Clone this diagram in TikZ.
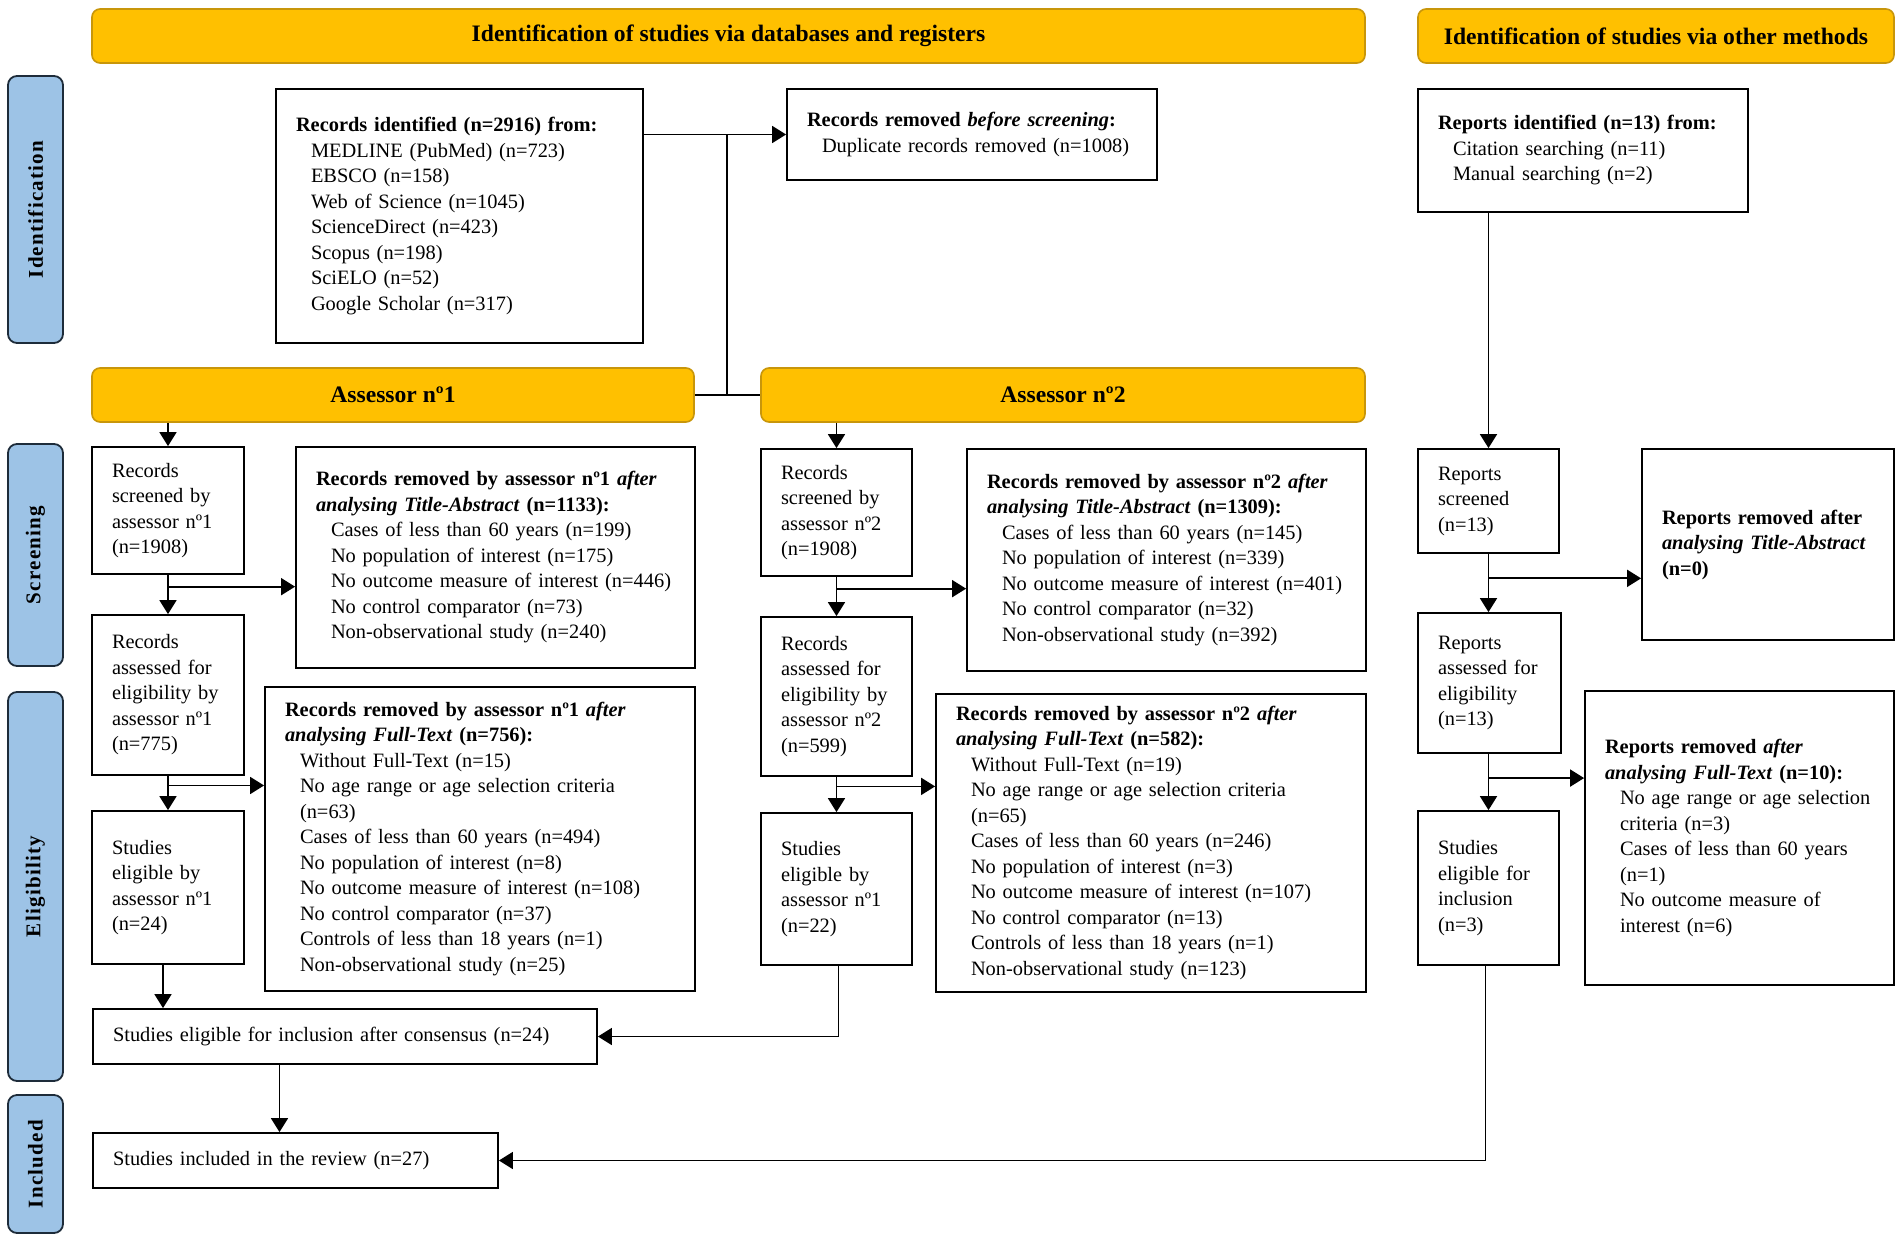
\documentclass[tikz,border=0pt]{standalone}
\usepackage{fontspec}
\setmainfont{Liberation Serif}
\newfontfamily\sidefont[LetterSpace=6]{Liberation Serif}
\usepackage{tikz}
\usetikzlibrary{arrows.meta, calc, positioning}
\definecolor{bandGold}{HTML}{FFC000}
\definecolor{bandEdge}{HTML}{C8960A}
\definecolor{sideBlue}{HTML}{9DC3E6}
\definecolor{sideEdge}{HTML}{1E2C3A}
\newcommand\bodyfont{\fontsize{10.2}{12.75}\selectfont\hyphenpenalty=10000\exhyphenpenalty=10000}
\newcommand\itm{\hspace*{7.5pt}}
\tikzset{
  box/.style 2 args={draw, line width=.9pt, minimum width=#1pt, minimum height=#2pt,
    text width=#1pt-20pt, inner xsep=10pt, inner ysep=0pt, align=left, font=\bodyfont},
  band/.style 2 args={draw=bandEdge, fill=bandGold, line width=.8pt, rounded corners=4pt,
    minimum width=#1pt, minimum height=#2pt, align=center,
    font=\fontsize{11.8}{14}\selectfont\bfseries},
  side/.style 2 args={draw=sideEdge, fill=sideBlue, line width=.9pt, rounded corners=4.5pt,
    rotate=90, minimum width=#2pt, minimum height=#1pt, inner sep=0pt,
    font=\fontsize{10.5}{12}\sidefont\bfseries},
}

\begin{document}
\begin{tikzpicture}[>={Triangle[length=7pt,width=8.5pt]}, line width=.9pt, x=.5pt, y=-.5pt]
\useasboundingbox (0,0) rectangle (1902,1243);

\node[band={636.5}{27}] (bandDb) at (728.5,36) {Identification of studies via databases and registers};
\node[band={238}{27}] (bandOther) at (1656,36) {Identification of studies via other methods};

\node[side={27.5}{133.5}] (sideId) at (35.5,209.5) {Identification};
\node[side={27.5}{111}] (sideScr) at (35.5,555) {Screening};
\node[side={27.5}{194.5}] (sideElig) at (35.5,886.5) {Eligibility};
\node[side={27.5}{69}] (sideIncl) at (35.5,1164) {Included};

\node[box={183.5}{127}] (idDb) at (459.5,216) {\textbf{Records identified (n=2916) from:}\\
  \itm MEDLINE (PubMed) (n=723)\\ \itm EBSCO (n=158)\\ \itm Web of Science (n=1045)\\
  \itm ScienceDirect (n=423)\\ \itm Scopus (n=198)\\ \itm SciELO (n=52)\\ \itm Google Scholar (n=317)};
\node[box={185}{45.5}] (dup) at (972,134.5) {\textbf{Records removed \textit{before screening}:}\\
  \itm Duplicate records removed (n=1008)};
\node[box={165}{61.5}] (idOther) at (1583,150.5) {\textbf{Reports identified (n=13) from:}\\
  \itm Citation searching (n=11)\\ \itm Manual searching (n=2)};

\node[band={301}{27}] (ass1) at (393,395) {Assessor nº1};
\node[band={302}{27}] (ass2) at (1063,395) {Assessor nº2};

\node[box={76}{63.5}] (scrA) at (168,510.5) {Records\\ screened by\\ assessor nº1\\ (n=1908)};
\node[box={199.5}{110.5}] (rmTAa) at (495.5,557.5) {\textbf{Records removed by assessor nº1 \textit{after}}\\
  \textbf{\textit{analysing Title-Abstract} (n=1133):}\\
  \itm Cases of less than 60 years (n=199)\\ \itm No population of interest (n=175)\\
  \itm No outcome measure of interest (n=446)\\ \itm No control comparator (n=73)\\
  \itm Non-observational study (n=240)};
\node[box={76}{80}] (asdA) at (168,695) {Records\\ assessed for\\ eligibility by\\ assessor nº1\\ (n=775)};
\node[box={215}{152}] (rmFTa) at (480,839) {\textbf{Records removed by assessor nº1 \textit{after}}\\
  \textbf{\textit{analysing Full-Text} (n=756):}\\
  \itm Without Full-Text (n=15)\\ \itm No age range or age selection criteria\\ \itm (n=63)\\
  \itm Cases of less than 60 years (n=494)\\ \itm No population of interest (n=8)\\
  \itm No outcome measure of interest (n=108)\\ \itm No control comparator (n=37)\\
  \itm Controls of less than 18 years (n=1)\\ \itm Non-observational study (n=25)};
\node[box={76}{76.5}] (eligA) at (168,887.5) {Studies\\ eligible by\\ assessor nº1\\ (n=24)};

\node[box={75.5}{63.5}] (scrB) at (836.5,512.5) {Records\\ screened by\\ assessor nº2\\ (n=1908)};
\node[box={199.5}{111}] (rmTAb) at (1166.5,560) {\textbf{Records removed by assessor nº2 \textit{after}}\\
  \textbf{\textit{analysing Title-Abstract} (n=1309):}\\
  \itm Cases of less than 60 years (n=145)\\ \itm No population of interest (n=339)\\
  \itm No outcome measure of interest (n=401)\\ \itm No control comparator (n=32)\\
  \itm Non-observational study (n=392)};
\node[box={75.5}{79.5}] (asdB) at (836.5,696.5) {Records\\ assessed for\\ eligibility by\\ assessor nº2\\ (n=599)};
\node[box={215}{149}] (rmFTb) at (1151,843) {\textbf{Records removed by assessor nº2 \textit{after}}\\
  \textbf{\textit{analysing Full-Text} (n=582):}\\
  \itm Without Full-Text (n=19)\\ \itm No age range or age selection criteria\\ \itm (n=65)\\
  \itm Cases of less than 60 years (n=246)\\ \itm No population of interest (n=3)\\
  \itm No outcome measure of interest (n=107)\\ \itm No control comparator (n=13)\\
  \itm Controls of less than 18 years (n=1)\\ \itm Non-observational study (n=123)};
\node[box={75.5}{76}] (eligB) at (836.5,889) {Studies\\ eligible by\\ assessor nº1\\ (n=22)};

\node[box={70.5}{52}] (scrO) at (1488.5,501) {Reports\\ screened\\ (n=13)};
\node[box={126}{95.5}] (rmTAo) at (1768,544.5) {\textbf{Reports removed after}\\
  \textbf{\textit{analysing Title-Abstract}}\\ \textbf{(n=0)}};
\node[box={71.5}{70}] (asdO) at (1489.5,683) {Reports\\ assessed for\\ eligibility\\ (n=13)};
\node[box={154.5}{147}] (rmFTo) at (1739.5,838) {\textbf{Reports removed \textit{after}}\\
  \textbf{\textit{analysing Full-Text} (n=10):}\\
  \itm No age range or age selection\\ \itm criteria (n=3)\\ \itm Cases of less than 60 years\\
  \itm (n=1)\\ \itm No outcome measure of\\ \itm interest (n=6)};
\node[box={70.5}{77}] (eligO) at (1488.5,888) {Studies\\ eligible for\\ inclusion\\ (n=3)};

\node[box={252}{27.5}] (cons) at (345,1036.5) {Studies eligible for inclusion after consensus (n=24)};
\node[box={202.5}{27.5}] (incl) at (295.5,1160.5) {Studies included in the review (n=27)};

\coordinate (split) at (727,0);
\draw[->] (idDb.east |- dup.west) -- (dup.west);
\draw (split |- dup.west) -- (split |- ass1.east);
\draw (ass1.east) -- (ass2.west);

\draw[->] (ass1.south -| scrA.north) -- (scrA.north);
\draw[->] (scrA) -- (asdA);
\draw[->] (asdA) -- (eligA);
\coordinate (brA1) at ($(scrA.south)!.3!(asdA.north)$);
\coordinate (brA2) at ($(asdA.south)!.28!(eligA.north)$);
\draw[->] (brA1) -- (brA1 -| rmTAa.west);
\draw[->] (brA2) -- (brA2 -| rmFTa.west);
\draw[->] ([xshift=-2.5pt]eligA.south) -- ([xshift=-2.5pt]eligA.south |- cons.north);

\draw[->] (ass2.south -| scrB.north) -- (scrB.north);
\draw[->] (scrB) -- (asdB);
\draw[->] (asdB) -- (eligB);
\coordinate (brB1) at ($(scrB.south)!.3!(asdB.north)$);
\coordinate (brB2) at ($(asdB.south)!.27!(eligB.north)$);
\draw[->] (brB1) -- (brB1 -| rmTAb.west);
\draw[->] (brB2) -- (brB2 -| rmFTb.west);
\draw[->] ([xshift=1pt]eligB.south) |- (cons.east);

\draw[->] (idOther.south -| scrO.north) -- (scrO.north);
\draw[->] (scrO) -- (asdO.north -| scrO.south);
\draw[->] (asdO.south -| scrO.south) -- (eligO);
\coordinate (brO1) at ($(scrO.south)!.42!(scrO.south |- asdO.north)$);
\coordinate (brO2) at ($(asdO.south -| scrO.south)!.43!(eligO.north)$);
\draw[->] (brO1) -- (brO1 -| rmTAo.west);
\draw[->] (brO2) -- (brO2 -| rmFTo.west);
\draw[->] ([xshift=-1.5pt]eligO.south) |- (incl.east);

\coordinate (consDown) at ([xshift=-8pt]cons.south -| incl.north);
\draw[->] (consDown) -- (consDown |- incl.north);
\end{tikzpicture}
\end{document}
